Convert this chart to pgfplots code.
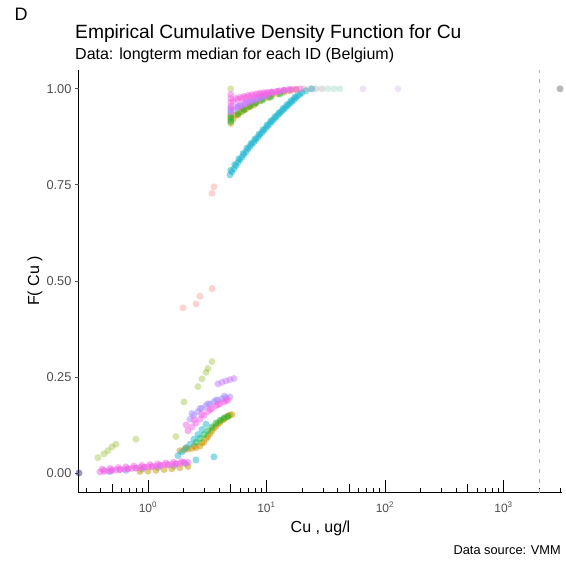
\documentclass[border=0pt]{standalone}
\usepackage{pgfplots}
\pgfplotsset{compat=1.18}
\usepackage{fontspec}
\setmainfont{Liberation Sans}
\definecolor{cMag}{HTML}{F564E3}
\definecolor{cPur}{HTML}{C77CFF}
\definecolor{cVio}{HTML}{A58AFF}
\definecolor{cOra}{HTML}{CD9600}
\definecolor{cGrn}{HTML}{00BA38}
\definecolor{cLgr}{HTML}{7CAE00}
\definecolor{cCya}{HTML}{1EB5CF}
\definecolor{cBlu}{HTML}{619CFF}
\definecolor{cRed}{HTML}{F8766D}
\definecolor{cGry}{HTML}{9E9E9E}
\definecolor{cTea}{HTML}{7FCDBB}
\definecolor{cLav}{HTML}{C9A8E6}
\definecolor{cNav}{HTML}{2B2F6B}
\definecolor{tickgrey}{HTML}{4D4D4D}
\pgfplotsset{pt/.style={only marks, color=#1, mark=*, mark size=3.5pt, mark options={fill=#1, draw=#1, fill opacity=0.5, draw opacity=0}},
  ptl/.style={only marks, color=#1, mark=*, mark size=3.5pt, mark options={fill=#1, draw=#1, fill opacity=0.32, draw opacity=0}}}
\begin{document}
\begin{tikzpicture}
\path[use as bounding box] (0,0) rectangle (566pt,562pt);
\begin{axis}[
  at={(79pt,69pt)}, anchor=south west,
  scale only axis, width=483pt, height=423pt,
  xmode=log, xmin=0.262, xmax=3118, ymin=-0.052, ymax=1.049,
  clip=false,
  axis x line*=bottom, axis y line*=left,
  axis line style={line width=1pt, black},
  tick align=inside,
  major tick length=13pt, minor tick length=4.5pt,
  every tick/.style={black, line width=0.8pt},
  xtick={1,10,100,1000},
  xticklabels={10\textsuperscript{0},10\textsuperscript{1},10\textsuperscript{2},10\textsuperscript{3}},
  minor xtick={0.3,0.4,0.6,0.7,0.8,0.9,2,3,4,6,7,8,9,20,30,40,60,70,80,90,200,300,400,600,700,800,900,2000,3000},
  extra x ticks={0.5,5,50,500}, extra x tick labels={},
  extra x tick style={major tick length=8.5pt},
  ytick=\empty,
  extra y ticks={0,0.25,0.5,0.75,1},
  extra y tick labels={0.00,0.25,0.50,0.75,1.00},
  extra y tick style={major tick length=4pt, tick align=outside, every tick/.style={tickgrey, line width=0.8pt}},
  xticklabel style={font=\fontsize{12}{14}\selectfont, text=tickgrey, inner sep=0pt, yshift=-9pt},
  yticklabel style={font=\fontsize{12.8}{14}\selectfont, text=tickgrey},
  /pgf/number format/assume math mode=true,
]
% dashed reference line
\addplot[color=black!30, line width=0.7pt, dash pattern=on 4pt off 6pt] coordinates {(2000,-0.052) (2000,1.049)};
% red
\addplot[ptl=cRed] coordinates {(1.974,0.43) (2.541,0.44) (2.747,0.46) (3.468,0.48) (3.468,0.728) (3.606,0.745)};
% light green
\addplot[ptl=cLgr] coordinates {(0.3784,0.04) (0.4252,0.05) (0.4597,0.058) (0.4968,0.068) (0.5370,0.075) (0.7920,0.088) (1.723,0.095) (2.013,0.185) (2.642,0.225) (2.856,0.245) (3.087,0.262) (3.209,0.272) (3.468,0.29) (5,1.0)};
% blue
\addplot[pt=cBlu] coordinates {(0.4779,0.004) (0.6522,0.007) (0.8899,0.010) (1.2146,0.014) (1.657,0.018) (2.093,0.024) (5,0.935) (6.213,0.95) (7.546,0.965) (9.164,0.977) (11.13,0.987) (14.05,0.995)};
% orange
\addplot[pt=cOra] coordinates {(0.8560,0.004) (1.0,0.005) (1.168,0.007) (1.365,0.009) (1.594,0.011) (1.862,0.014) (2.176,0.017)
 (1.862,0.058) (2.013,0.06) (2.176,0.062) (2.351,0.064) (2.541,0.066) (2.747,0.07) (2.969,0.08) (3.209,0.095) (3.468,0.11) (3.749,0.122) (4.052,0.132) (4.379,0.14) (4.733,0.147) (5.116,0.152)
 (2.1,0.066) (2.45,0.07) (2.85,0.078) (3.1,0.09) (3.35,0.103) (3.6,0.117) (3.9,0.128) (4.2,0.137) (4.55,0.145) (4.9,0.151)
 (5,0.91) (5,0.92) (5,0.93) (5.529,0.932) (5.976,0.94) (6.459,0.947) (6.981,0.953) (7.546,0.959) (8.155,0.964) (8.815,0.969) (9.527,0.974) (10.29,0.978) (11.13,0.982) (12.51,0.987) (14.05,0.991) (15.79,0.995) (17.74,0.998)
 (5.25,0.922) (5.75,0.932) (6.2,0.94) (6.7,0.947) (7.25,0.953) (7.85,0.958)};
% green
\addplot[pt=cGrn] coordinates {(2.541,0.08) (2.747,0.09) (2.969,0.10) (3.209,0.11) (3.468,0.12) (3.749,0.13) (4.052,0.137) (4.379,0.143) (4.733,0.148)
 (5,0.915) (5,0.925) (5.749,0.935) (6.459,0.945) (7.258,0.955) (8.155,0.963) (9.164,0.97) (10.71,0.978) (13.00,0.987)};
% cyan
\addplot[pt=cCya] coordinates {(1.792,0.045) (1.936,0.055) (2.093,0.065) (2.262,0.075) (2.445,0.088) (2.642,0.10) (2.856,0.113) (3.087,0.127)
 (2.541,0.034) (3.606,0.042)
 (4.921,0.776) (5.116,0.784) (5.319,0.792) (5.529,0.80) (5.749,0.808) (5.976,0.815) (6.213,0.822) (6.459,0.829) (6.715,0.836) (6.981,0.843) (7.258,0.85) (7.546,0.856) (7.845,0.862) (8.155,0.868) (8.478,0.874) (8.815,0.88) (9.164,0.886) (9.527,0.892) (9.905,0.898) (10.29,0.904) (10.71,0.91) (11.13,0.915) (11.57,0.921) (12.03,0.926) (12.51,0.932) (13.00,0.937) (13.52,0.942) (14.05,0.947) (14.61,0.952) (15.19,0.957) (15.79,0.962) (16.42,0.967) (17.07,0.972) (17.74,0.977) (18.45,0.982) (19.18,0.986) (19.94,0.99) (21.55,0.995) (24.21,1.0)
 (5.0,0.788) (5.4,0.803) (5.85,0.818) (6.35,0.832) (6.85,0.846) (7.4,0.858) (8.0,0.87) (8.65,0.882) (9.35,0.894) (10.1,0.906) (10.9,0.917) (11.8,0.928) (12.75,0.938) (13.8,0.949) (14.9,0.959) (16.1,0.969) (17.4,0.979)};
% violet
\addplot[pt=cVio] coordinates {(2.262,0.14) (2.445,0.15) (2.642,0.16) (2.856,0.168) (3.087,0.175) (3.336,0.18) (3.606,0.185) (3.897,0.19) (4.213,0.193) (4.553,0.196) (4.921,0.198)
 (2.35,0.155) (2.75,0.168) (3.2,0.18) (3.75,0.19) (4.4,0.2)
 (5,0.945) (5.749,0.955) (6.715,0.965)};
% purple
\addplot[pt=cPur] coordinates {(0.4252,0.007) (0.4968,0.008) (0.5804,0.009) (0.6779,0.011) (0.7920,0.013) (0.9252,0.015) (1.081,0.017) (1.263,0.019) (1.475,0.021) (1.723,0.024) (2.013,0.027)
 (3.897,0.232) (4.213,0.236) (4.553,0.24) (4.921,0.243) (5.319,0.246)
 (5,0.94) (5,0.95) (5.529,0.952) (5.976,0.957) (6.459,0.962) (6.981,0.967) (7.546,0.971) (8.155,0.975) (8.815,0.979) (9.527,0.983) (10.29,0.986) (11.13,0.989) (12.51,0.993) (14.05,0.996) (15.79,0.999)
 (5.25,0.945) (5.75,0.951) (6.2,0.956) (6.7,0.961) (7.25,0.966) (7.85,0.97) (8.5,0.974) (9.2,0.978) (10,0.982)};
% magenta
\addplot[pt=cMag] coordinates {(0.3935,0.003) (0.4252,0.004) (0.4597,0.005) (0.4968,0.006) (0.5370,0.008) (0.5804,0.009) (0.6273,0.010) (0.6779,0.011) (0.7328,0.012) (0.7920,0.013) (0.8560,0.014) (0.9252,0.015) (1.0,0.016) (1.081,0.017) (1.168,0.018) (1.263,0.020) (1.365,0.021) (1.475,0.022) (1.594,0.023) (1.723,0.024) (1.862,0.025) (2.013,0.027) (2.176,0.028)
 (0.41,0.01) (0.48,0.012) (0.56,0.014) (0.65,0.016) (0.76,0.018) (0.89,0.02) (1.04,0.022) (1.21,0.024) (1.41,0.026) (1.65,0.028) (1.92,0.03)
 (2.176,0.11) (2.351,0.12) (2.541,0.13) (2.747,0.14) (2.969,0.15) (3.209,0.16) (3.468,0.168) (3.749,0.175) (4.052,0.18) (4.379,0.185) (4.733,0.19)
 (2.1,0.125) (2.45,0.138) (2.85,0.152) (3.35,0.165) (3.9,0.178) (4.55,0.188)
 (5,0.955) (5,0.965) (5,0.975) (5,0.985)
 (5.529,0.975) (5.976,0.978) (6.459,0.98) (6.981,0.983) (7.546,0.985) (8.155,0.987) (8.815,0.989) (9.527,0.99) (10.29,0.991) (11.13,0.992) (12.03,0.993) (13.00,0.995) (14.05,0.996) (15.19,0.997) (16.42,0.998) (17.74,0.999) (19.18,1.0)
 (5.25,0.968) (5.75,0.972) (6.2,0.975) (6.7,0.978) (7.25,0.98) (7.85,0.982) (8.5,0.985) (9.2,0.987) (10,0.989) (11,0.991) (12.5,0.993)};
% tail
\addplot[ptl=cGry] coordinates {(20.73,1.0) (23.29,1.0) (26.16,1.0) (29.4,1.0)};
\addplot[ptl=cTea] coordinates {(33.0,1.0) (37.1,1.0) (41.7,1.0)};
\addplot[ptl=cLav] coordinates {(65.2,1.0) (128.8,1.0)};
\addplot[pt=black!55] coordinates {(3000,1.0)};
\addplot[pt=cNav] coordinates {(0.262,0.0)};
\end{axis}
\node[anchor=base west, font=\fontsize{18}{20}\selectfont] at (11pt,541pt) {D};
\node[anchor=base west, font=\fontsize{19.2}{22}\selectfont, inner sep=0pt] at (75pt,523pt) {Empirical Cumulative Density Function for Cu};
\node[anchor=base west, font=\fontsize{16}{18}\selectfont, inner sep=0pt] at (75pt,502pt) {Data: longterm median for each ID (Belgium)};
\node[rotate=90, font=\fontsize{16}{18}\selectfont, inner sep=0pt] at (35pt,281pt) {F( Cu )};
\node[font=\fontsize{16}{18}\selectfont, inner sep=0pt] at (320.5pt,34pt) {Cu , ug/l};
\node[anchor=base east, font=\fontsize{12.8}{14}\selectfont, inner sep=0pt] at (561pt,7pt) {Data source: VMM};
\end{tikzpicture}
\end{document}
